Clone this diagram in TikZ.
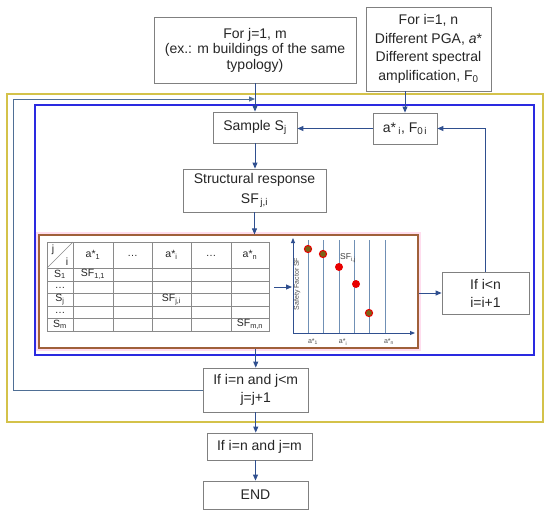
\documentclass[tikz,border=0pt]{standalone}
\usepackage{fontspec}
\setmainfont{Liberation Sans}
\usetikzlibrary{arrows.meta}
\definecolor{arrowc}{HTML}{2F4F8F}
\definecolor{loopc}{HTML}{4F6F95}
\definecolor{boxc}{HTML}{808080}
\definecolor{yel}{HTML}{D4C24A}
\definecolor{blu}{HTML}{2A2AE0}
\definecolor{brn}{HTML}{A0603A}
\definecolor{pnk}{HTML}{FFDDEE}
\definecolor{dotred}{HTML}{E80000}
\definecolor{dotolive}{HTML}{7A6418}
\definecolor{gridc}{HTML}{7090B5}
\definecolor{tabc}{HTML}{8A8A8A}
\begin{document}
\begin{tikzpicture}[x=1pt,y=-1pt,
  flowbox/.style={draw=boxc, line width=0.8pt, fill=white, align=center, inner sep=0pt, text=black!85},
  f14/.style={font=\fontsize{14}{#1}\selectfont},
  arr/.style={draw=arrowc, line width=1pt, -{Triangle[length=6pt,width=5pt]}},
  looparr/.style={draw=loopc, line width=1pt, -{Triangle[length=6pt,width=5pt]}},
  tabtxt/.style={inner sep=0pt, font=\fontsize{10.5}{12}\selectfont, text=black!85},
  tabline/.style={draw=tabc, line width=0.6pt},
  chtxt/.style={inner sep=0pt, font=\fontsize{7}{8}\selectfont, text=black!70},
  sfdot/.style={draw=dotred, line width=1pt},
]
\useasboundingbox (0,0) rectangle (550,515);

% frames
\draw[yel, line width=1.3pt] (7,94) rectangle (543,422);
\draw[blu, line width=1.3pt] (35,105) rectangle (534,355);

% top boxes
\node[flowbox, f14=15.5, minimum width=202, minimum height=66] (forj) at (255,50)
  {For j=1, m\\(ex.: m buildings of the same\\typology)};
\node[flowbox, f14=18.5, minimum width=125, minimum height=84] (fori) at (428.5,49)
  {For i=1, n\\Different PGA, \textit{a}*\\Different spectral\\amplification, F\textsubscript{0}};

\node[flowbox, f14=16, minimum width=84, minimum height=31] (sample) at (255,127.5)
  {Sample S\textsubscript{j}};
\node[flowbox, f14=16, minimum width=64, minimum height=31] (astar) at (405,128.5)
  {a*\,\textsubscript{i}, F\textsubscript{0\,i}};
\node[flowbox, f14=20, minimum width=143, minimum height=43] (struct) at (254.5,190.5)
  {Structural response\\SF\textsubscript{\,j,i}};

% panel
\draw[pnk, line width=3pt] (37.5,233.5) rectangle (419.5,349.5);
\node[draw=brn, fill=white, line width=1.2pt, minimum width=379, minimum height=113, inner sep=0pt] (panel) at (228.5,291.5) {};

% table
\draw[tabline] (47,242) rectangle (269,331);
\foreach \x in {73,113,152,191,231} \draw[tabline] (\x,242) -- (\x,331);
\foreach \y in {268,281,293,306,318} \draw[tabline] (47,\y) -- (269,\y);
\draw[tabline] (47,268) -- (73,242);
\node[tabtxt] (tj) at (53,250) {j};
\node[tabtxt] (ti) at (67,262) {i};
\node[tabtxt] (h1) at (93,255) {a*\textsubscript{1}};
\node[tabtxt] (h2) at (132.5,256) {…};
\node[tabtxt] (h3) at (171.5,255) {a*\textsubscript{i}};
\node[tabtxt] (h4) at (211,256) {…};
\node[tabtxt] (h5) at (250,255) {a*\textsubscript{n}};
\node[tabtxt] (r1) at (60,274.5) {S\textsubscript{1}};
\node[tabtxt] (r2) at (60,288) {…};
\node[tabtxt] (r3) at (60,299.5) {S\textsubscript{j}};
\node[tabtxt] (r4) at (60,313) {…};
\node[tabtxt] (r5) at (60,324.5) {S\textsubscript{m}};
\node[tabtxt] (c11) at (93,274.5) {SF\textsubscript{1,1}};
\node[tabtxt] (cji) at (171.5,299.5) {SF\textsubscript{j,i}};
\node[tabtxt] (cmn) at (250,324.5) {SF\textsubscript{m,n}};

% chart
\foreach \x in {308,323,339,354,369,385} \draw[gridc, line width=0.6pt] (\x,240) -- (\x,333);
\draw[arrowc, line width=0.9pt, -{Triangle[length=5pt,width=4pt]}] (293,333) -- (293,238);
\draw[arrowc, line width=0.9pt, -{Triangle[length=5pt,width=4pt]}] (293,333) -- (415,333);
\filldraw[sfdot, fill=dotolive] (308,249) circle[radius=3.6pt];
\filldraw[sfdot, fill=dotolive] (323,254) circle[radius=3.6pt];
\fill[dotred] (339,267) circle[radius=4pt];
\fill[dotred] (356,284) circle[radius=4pt];
\filldraw[sfdot, fill=dotolive] (369,313) circle[radius=3.6pt];
\node[inner sep=0pt, font=\fontsize{8.5}{10}\selectfont, text=black!75] (sflab) at (348,258) {SF\textsubscript{i,j}};
\node[chtxt, rotate=90] (ylab) at (297,284) {Safety Factor SF};
\node[chtxt] (xl1) at (313,342) {a*\textsubscript{1}};
\node[chtxt] (xl2) at (343,342) {a*\textsubscript{i}};
\node[chtxt] (xl3) at (389,342) {a*\textsubscript{n}};
\coordinate (tblE) at (274,287);
\coordinate (yax) at (292,287);
\draw[arr] (tblE) -- (yax);

% right loop box
\node[flowbox, f14=18, minimum width=87, minimum height=42] (ifn) at (485.5,293)
  {If i<n\\i=i+1};

% lower boxes
\node[flowbox, f14=18, minimum width=104.5, minimum height=44] (if1) at (255.75,390)
  {If i=n and j<m\\j=j+1};
\node[flowbox, f14=16, minimum width=105, minimum height=27] (if2) at (259.5,446.5)
  {If i=n and j=m};
\node[flowbox, f14=16, minimum width=105, minimum height=28] (endb) at (255.5,495)
  {END};

% connectors
\draw[arr] (sample.north |- forj.south) -- (sample.north);
\draw[arr] (astar.north |- fori.south) -- (astar.north);
\draw[arr] (astar.west) -- (sample.east |- astar.west);
\draw[arr] (sample.south) -- (sample.south |- struct.north);
\draw[arr] (struct.south) -- (struct.south |- panel.north);
\draw[arr] (panel.east |- ifn.west) -- (ifn.west);
\draw[arr] (ifn.north) -- (ifn.north |- astar.east) -- (astar.east);
\draw[arr] (if1.north |- panel.south) -- (if1.north);
\draw[arr] (if1.south) -- (if1.south |- if2.north);
\draw[arr] (endb.north |- if2.south) -- (endb.north);
\coordinate (lp1) at (13,390);
\coordinate (lp2) at (13,99);
\draw[looparr] (if1.west) -- (lp1) -- (lp2) -- (sample.north |- lp2);
\end{tikzpicture}
\end{document}
